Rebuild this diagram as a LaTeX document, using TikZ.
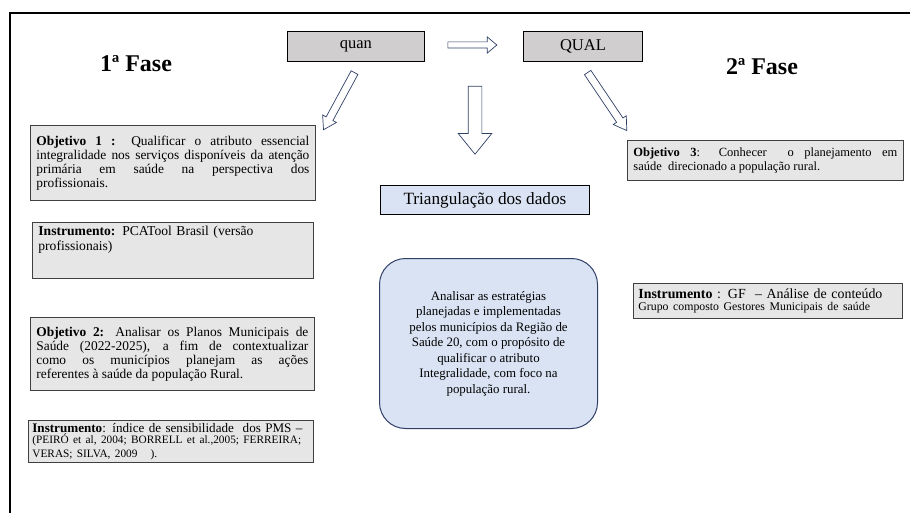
\documentclass[tikz,border=0pt]{standalone}
\usepackage{fontspec}
\setmainfont{Liberation Serif}
\usetikzlibrary{shapes.arrows}
\definecolor{boxgray}{HTML}{E7E6E6}
\definecolor{headgray}{HTML}{D0CECE}
\definecolor{lblue}{HTML}{DAE3F3}
\definecolor{arrowblue}{HTML}{2F3F66}
\definecolor{edgegray}{HTML}{404040}
\begin{document}
\begin{tikzpicture}[x=1pt,y=-1pt,
  gbox/.style={draw=edgegray, fill=boxgray, line width=0.8pt, anchor=north west,
    inner xsep=6pt, inner ysep=2pt, align=justify, font=\fontsize{13.4}{14}\selectfont},
  hbox/.style={draw=black, fill=headgray, line width=0.9pt, anchor=north west,
    inner sep=0pt, font=\fontsize{16.5}{18}\selectfont},
  barrow/.style={single arrow, draw=arrowblue, fill=white, line width=0.7pt,
    inner sep=0pt, minimum width=0pt},
  phase/.style={font=\fontsize{24}{27}\selectfont\bfseries}
]
\useasboundingbox (0,0) rectangle (910,513);
% frame
\draw[line width=1.8pt] (10,513) -- (10,13) -- (910,13);

% headers
\node[hbox, minimum width=137pt, minimum height=30pt] (quan) at (287,31) {quan};
\node[hbox, minimum width=119pt, minimum height=30pt] (qual) at (523,31) {QUAL};
\node[phase] (f1) at (136,64) {1ª Fase};
\node[phase] (f2) at (762,67) {2ª Fase};

% block arrows
\node[barrow, minimum height=49pt, text height=5.5pt, single arrow head extend=5pt,
  single arrow tip angle=80] (a0) at (470.5,45) {};
\node[barrow, minimum height=65pt, text height=7pt, single arrow head extend=4pt,
  single arrow tip angle=64, rotate=241.5] (a1) at (340.5,98.5) {};
\node[barrow, minimum height=68pt, text height=13pt, single arrow head extend=10pt,
  single arrow tip angle=78, rotate=-90] (a2) at (475,116) {};
\node[barrow, minimum height=70pt, text height=7pt, single arrow head extend=4pt,
  single arrow tip angle=64, rotate=-56] (a3) at (605.5,99) {};

% left column
\node[gbox, text width=273pt, minimum height=75pt] (o1) at (30,125)
  {\textbf{Objetivo 1 :} Qualificar o atributo essencial\linebreak
   integralidade nos serviços disponíveis da atenção\linebreak
   primária em saúde na perspectiva dos\linebreak
   profissionais.};
\node[gbox, text width=269pt, minimum height=56pt, align=left, inner ysep=0pt,
  font=\fontsize{13.6}{15}\selectfont] (i1) at (32,222)
  {\parbox[t][50pt][t]{269pt}{\vspace{1pt}\textbf{Instrumento:} PCATool Brasil (versão\\profissionais)}};
\node[gbox, text width=272pt, minimum height=73pt] (o2) at (30,317)
  {\textbf{Objetivo 2:} Analisar os Planos Municipais de\linebreak
   Saúde (2022-2025), a fim de contextualizar\linebreak
   como os municípios planejam as ações\linebreak
   referentes à saúde da população Rural.};
\node[gbox, text width=277pt, inner xsep=4pt, inner ysep=1pt, minimum height=42pt, align=left,
  font=\fontsize{13.1}{13.5}\selectfont] (i2) at (28,420)
  {\mbox{\textbf{Instrumento}: índice de sensibilidade\ \ dos PMS –}\\[-1pt]
   {\fontsize{11.3}{12}\selectfont (PEIRÓ et al, 2004; BORRELL et al.,2005; FERREIRA;\\
   VERAS; SILVA, 2009\ \ \ ).}};

% centre
\node[draw=black, fill=lblue, line width=0.9pt, anchor=north west, inner sep=0pt,
  minimum width=209pt, minimum height=29pt, font=\fontsize{17.2}{20}\selectfont] (tri) at (380,185)
  {Triangulação dos dados};
\node[draw=arrowblue, fill=lblue, line width=1pt, rounded corners=26pt, anchor=north west,
  minimum width=218pt, minimum height=170pt, align=center,
  font=\fontsize{12.9}{15.5}\selectfont] (goal) at (379,258)
  {Analisar as estratégias\\ planejadas e implementadas\\ pelos municípios da Região de\\
   Saúde 20, com o propósito de\\ qualificar o atributo\\ Integralidade, com foco na\\
   população rural.};

% right column
\node[gbox, text width=264pt, minimum height=40pt, font=\fontsize{12.5}{14}\selectfont] (o3) at (627,140)
  {\textbf{Objetivo 3}: Conhecer\ \ o planejamento em\linebreak
   saúde\ \ direcionado a população rural.};
\node[gbox, text width=259pt, inner xsep=5pt, minimum height=35pt, align=left,
  font=\fontsize{13.9}{15}\selectfont] (i3) at (633,283)
  {\textbf{Instrumento} : GF\ \ – Análise de conteúdo\\[-3pt]
   {\fontsize{11.8}{12}\selectfont Grupo composto Gestores Municipais de saúde}};
\end{tikzpicture}
\end{document}
